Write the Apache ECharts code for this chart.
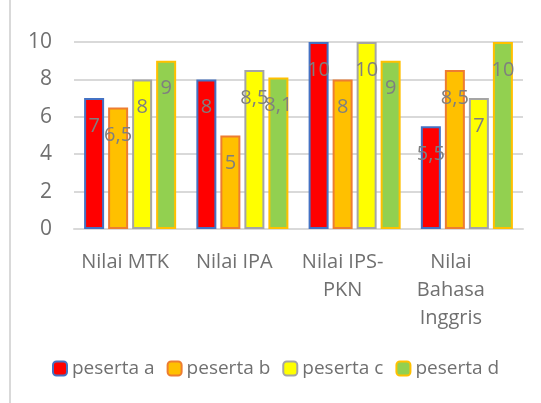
<!DOCTYPE html>
<html><head><meta charset="utf-8">
<script src="https://cdn.jsdelivr.net/npm/echarts@6/dist/echarts.min.js"></script>
<style>html,body{margin:0;padding:0;background:#fff}#c{width:541px;height:403px}</style>
</head><body><div id="c"></div>
<script>
const categories = ['Nilai MTK', 'Nilai IPA', 'Nilai IPS-\nPKN', 'Nilai\nBahasa\nInggris'];
const seriesNames = ['peserta a', 'peserta b', 'peserta c', 'peserta d'];
const pesertaA = [7, 8, 10, 5.5];
const pesertaB = [6.5, 5, 8, 8.5];
const pesertaC = [8, 8.5, 10, 7];
const pesertaD = [9, 8.1, 9, 10];
const fills = ['#FF0000', '#FFC000', '#FFFF00', '#92D050'];
const borders = ['#4472C4', '#ED7D31', '#A5A5A5', '#FFC000'];
const values = [pesertaA, pesertaB, pesertaC, pesertaD];
const FONT = 'Open Sans';
const AX = 20;
const chart = echarts.init(document.getElementById('c'));
chart.setOption({
  animation: false,
  textStyle: { fontFamily: FONT },
  grid: { left: 74, right: 18, top: 42, bottom: 174 },
  graphic: [{ type: 'line', shape: { x1: 10, y1: 0, x2: 10, y2: 403 }, style: { stroke: '#D9D9D9', lineWidth: 2 } }],
  legend: {
    bottom: 20, left: 47, itemWidth: 14, itemHeight: 14, itemGap: 12,
    textStyle: { fontFamily: FONT, fontSize: 19, color: '#707070' },
    data: seriesNames
  },
  xAxis: {
    type: 'category', data: categories,
    axisLine: { lineStyle: { color: '#D9D9D9', width: 2 } },
    axisTick: { show: false },
    axisLabel: {
      interval: 0, margin: 19, color: '#707070', fontFamily: FONT, fontSize: AX, lineHeight: 28,
      formatter: (v, i) => '{p' + i + '|' + v.split('\n').join('}\n{p' + i + '|') + '}',
      rich: {
        p0: { padding: [0, 10, 0, 0], fontSize: AX, lineHeight: 28, color: '#707070' },
        p1: { padding: [0, 16, 0, 0], fontSize: AX, lineHeight: 28, color: '#707070' },
        p2: { padding: [0, 24, 0, 0], fontSize: AX, lineHeight: 28, color: '#707070' },
        p3: { padding: [0, 32, 0, 0], fontSize: AX, lineHeight: 28, color: '#707070' }
      }
    }
  },
  yAxis: {
    type: 'value', min: 0, max: 10, interval: 2,
    axisLine: { show: false }, axisTick: { show: false },
    splitLine: { lineStyle: { color: '#D9D9D9', width: 2 } },
    axisLabel: { color: '#707070', fontFamily: FONT, fontSize: 21, margin: 22 }
  },
  series: seriesNames.map((n, i) => ({
    name: n, type: 'bar', data: values[i],
    barGap: '20%', barCategoryGap: '18%',
    itemStyle: { color: fills[i], borderColor: borders[i], borderWidth: 2 },
    label: {
      show: true, position: 'insideTop', distance: 18,
      color: '#7F7F7F', fontFamily: FONT, fontSize: 20,
      formatter: p => String(p.value).replace('.', ',')
    }
  }))
});
</script></body></html>
